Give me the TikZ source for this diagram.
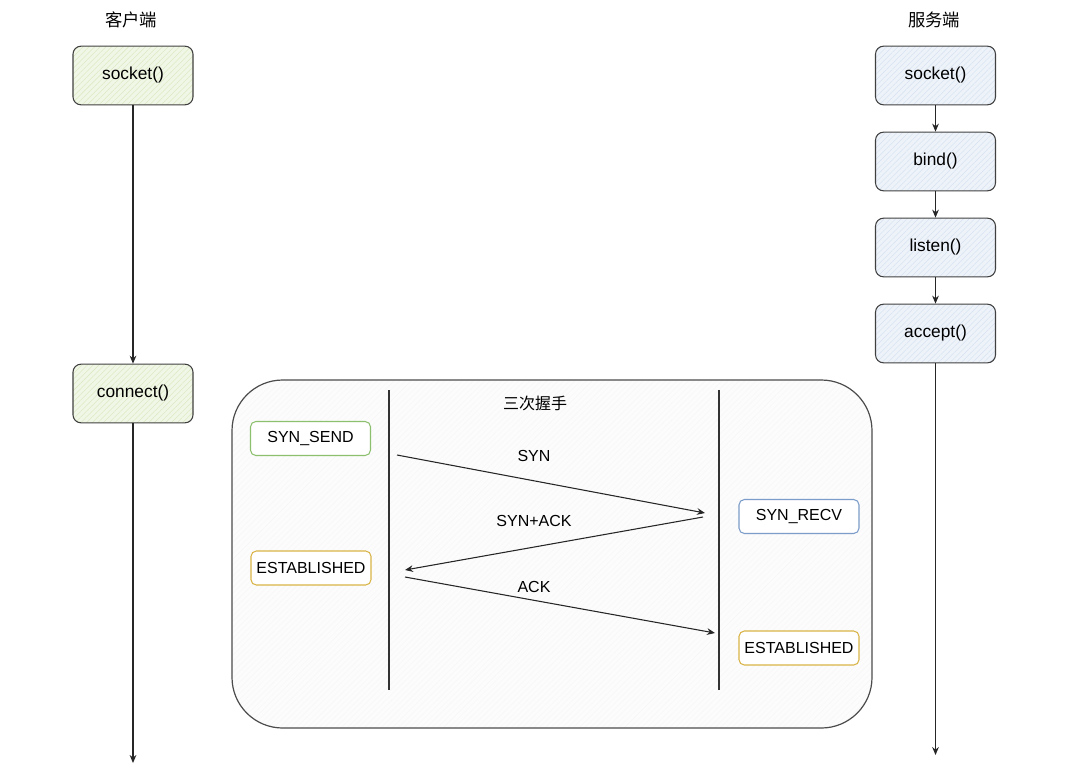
\documentclass[tikz,border=0pt]{standalone}
\usepackage{fontspec}
\setmainfont{Liberation Sans}
\newfontfamily\cjk{Noto Sans CJK SC}
\usetikzlibrary{arrows.meta,patterns.meta}

\definecolor{clientfill}{HTML}{F1F7E6}
\definecolor{clienthatch}{HTML}{DCE9C4}
\definecolor{serverfill}{HTML}{EEF3FA}
\definecolor{serverhatch}{HTML}{D8E3F1}
\definecolor{sendgreen}{HTML}{8CBF6E}
\definecolor{estorange}{HTML}{D9B448}
\definecolor{recvblue}{HTML}{7C9CC9}

\tikzset{
	callbox/.style={draw=black!75, line width=0.8pt, rounded corners=6pt,
		minimum width=90pt, minimum height=44pt,
		font=\fontsize{13}{15}\selectfont},
	clientbox/.style={callbox, preaction={fill=clientfill},
		preaction={pattern={Lines[angle=45,distance=3pt,line width=0.4pt]}, pattern color=clienthatch}},
	serverbox/.style={callbox, preaction={fill=serverfill},
		preaction={pattern={Lines[angle=45,distance=3pt,line width=0.4pt]}, pattern color=serverhatch}},
	statebox/.style={line width=0.8pt, rounded corners=4pt, fill=white,
		minimum width=90pt, minimum height=25.5pt,
		font=\fontsize{12}{14}\selectfont},
	flow/.style={line width=0.8pt, draw=black!85, -{Stealth[length=6pt,width=5pt]}},
	msg/.style={line width=0.8pt, draw=black!85, -{Stealth[length=6pt,width=5pt]}},
	msglabel/.style={font=\fontsize{12}{14}\selectfont}
}

\begin{document}
\begin{tikzpicture}[x=0.75pt, y=-0.75pt]
	\useasboundingbox (0,0) rectangle (1080,775);

	% handshake frame
	\draw[line width=0.9pt, draw=black!70, rounded corners=38pt,
		preaction={fill=black!1},
		preaction={pattern={Lines[angle=45,distance=3pt,line width=0.3pt]}, pattern color=black!3}]
		(232,380) rectangle (872,728);
	\node[font=\cjk\fontsize{12}{14}\selectfont] (hstitle) at (535,403) {三次握手};

	% titles
	\node[font=\cjk\fontsize{13}{15}\selectfont] (client) at (131,20) {客户端};
	\node[font=\cjk\fontsize{13}{15}\selectfont] (server) at (934,20) {服务端};

	% client side
	\node[clientbox] (csocket) at (133,75.5) {socket()};
	\node[clientbox] (cconnect) at (133,393.5) {connect()};
	\coordinate (cend) at (133,763);
	\draw[flow] (csocket) -- (cconnect);
	\draw[flow] (cconnect) -- (cend);

	% server side
	\node[serverbox] (ssocket) at (935.5,75.5) {socket()};
	\node[serverbox] (sbind) at (935.5,161.5) {bind()};
	\node[serverbox] (slisten) at (935.5,247.5) {listen()};
	\node[serverbox] (saccept) at (935.5,333.5) {accept()};
	\coordinate (send) at (935.5,755);
	\draw[flow] (ssocket) -- (sbind);
	\draw[flow] (sbind) -- (slisten);
	\draw[flow] (slisten) -- (saccept);
	\draw[flow] (saccept) -- (send);

	% lifelines
	\coordinate (ltop) at (389,390);
	\coordinate (lbot) at (389,690);
	\coordinate (rtop) at (719,390);
	\coordinate (rbot) at (719,690);
	\draw[line width=1pt, black!80] (ltop) -- (lbot);
	\draw[line width=1pt, black!80] (rtop) -- (rbot);

	% states
	\node[statebox, draw=sendgreen] (synsend) at (310.5,438.5) {SYN\_SEND};
	\node[statebox, draw=estorange] (estleft) at (311,568) {ESTABLISHED};
	\node[statebox, draw=recvblue] (synrecv) at (799,516.5) {SYN\_RECV};
	\node[statebox, draw=estorange] (estright) at (799,648) {ESTABLISHED};

	% messages
	\coordinate (syna) at (397,455);
	\coordinate (synb) at (705,513);
	\coordinate (acka) at (703,517);
	\coordinate (ackb) at (405,570);
	\coordinate (fina) at (405,577);
	\coordinate (finb) at (715,633);
	\draw[msg] (syna) -- (synb);
	\draw[msg] (acka) -- (ackb);
	\draw[msg] (fina) -- (finb);
	\node[msglabel] (synlabel) at (534,456) {SYN};
	\node[msglabel] (synacklabel) at (534,521) {SYN+ACK};
	\node[msglabel] (acklabel) at (534,587) {ACK};
\end{tikzpicture}
\end{document}
